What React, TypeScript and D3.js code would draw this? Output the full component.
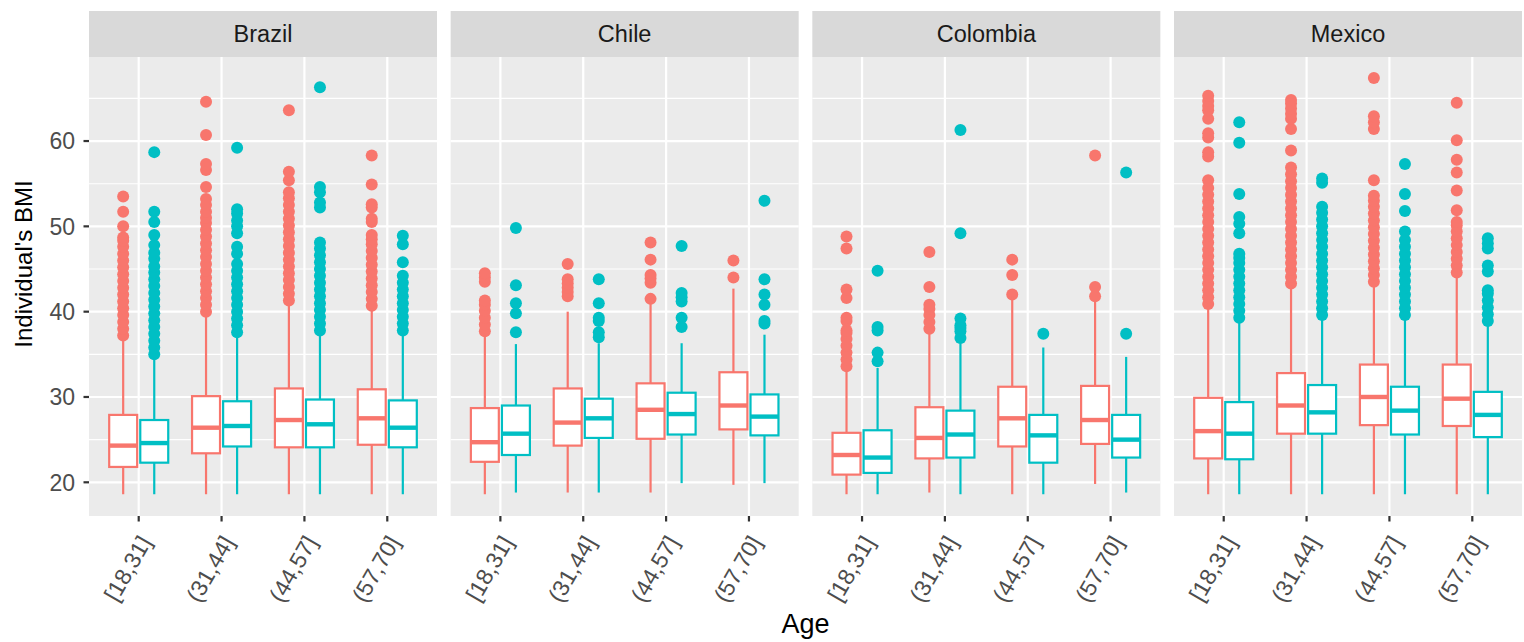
import React from "react";
import * as d3 from "d3";

const countries = ["Brazil", "Chile", "Colombia", "Mexico"];
const ageGroups = ["[18,31]", "(31,44]", "(44,57]", "(57,70]"];
const sexGroups = ["Female", "Male"];
const sexColors = ["#F8766D", "#00BFC4"];
const yTicks = [20, 30, 40, 50, 60];
const yMinorTicks = [25, 35, 45, 55, 65];

// [lower whisker, Q1, median, Q3, upper whisker]; order: age group x sex (Female, Male)
const brazilBoxes = [
  [18.6, 21.8, 24.3, 27.9, 36.9], [18.6, 22.3, 24.6, 27.3, 34.6],
  [18.6, 23.4, 26.4, 30.1, 39.8], [18.6, 24.2, 26.6, 29.5, 37.3],
  [18.6, 24.1, 27.3, 31.0, 41.0], [18.6, 24.1, 26.8, 29.7, 37.6],
  [18.6, 24.4, 27.5, 30.9, 40.4], [18.6, 24.1, 26.4, 29.6, 37.5],
];
const brazilOutliers = [
  [37.2, 38.0, 38.8, 39.6, 40.4, 41.2, 42.0, 42.8, 43.6, 44.4, 45.2, 46.0, 46.8, 47.6, 48.3, 48.7, 50.0, 51.7, 53.5],
  [35.0, 35.8, 36.6, 37.4, 38.2, 39.0, 39.8, 40.6, 41.4, 42.2, 43.0, 43.8, 44.6, 45.3, 46.2, 46.9, 47.8, 49.0, 50.5, 51.7, 58.7],
  [40.0, 40.8, 41.6, 42.4, 43.2, 44.0, 44.8, 45.6, 46.4, 47.2, 48.0, 48.8, 49.6, 50.4, 51.0, 51.7, 52.5, 53.2, 54.6, 56.6, 57.3, 60.7, 64.6],
  [37.6, 38.4, 39.2, 40.0, 40.8, 41.6, 42.4, 43.2, 44.0, 44.8, 45.6, 46.8, 47.6, 49.2, 50.0, 50.7, 51.5, 52.0, 59.2],
  [41.3, 42.1, 42.9, 43.7, 44.5, 45.3, 46.1, 46.9, 47.7, 48.5, 49.3, 50.1, 50.9, 51.7, 52.5, 53.3, 54.0, 55.4, 56.4, 63.6],
  [37.8, 38.6, 39.4, 40.2, 41.0, 41.8, 42.6, 43.4, 44.2, 45.0, 45.8, 46.6, 47.4, 48.1, 52.2, 52.8, 54.0, 54.6, 66.3],
  [40.7, 41.5, 42.3, 43.1, 43.9, 44.7, 45.5, 46.3, 47.1, 47.9, 48.5, 49.0, 50.5, 50.9, 52.2, 52.6, 54.9, 58.3],
  [37.8, 38.6, 39.4, 40.2, 41.0, 41.8, 42.6, 43.4, 44.2, 45.8, 47.9, 48.9],
];

const chileBoxes = [
  [18.6, 22.4, 24.7, 28.7, 37.4], [18.8, 23.2, 25.7, 29.0, 36.2],
  [18.8, 24.3, 27.0, 31.0, 40.0], [18.8, 25.2, 27.5, 29.8, 36.3],
  [18.8, 25.1, 28.5, 31.6, 41.0], [19.9, 25.6, 28.0, 30.5, 36.3],
  [19.7, 26.2, 29.0, 32.9, 42.7], [19.9, 25.5, 27.7, 30.3, 37.3],
];
const chileOutliers = [
  [37.7, 38.5, 39.3, 40.1, 40.8, 41.3, 43.5, 44.0, 44.5],
  [37.6, 39.8, 41.0, 43.1, 49.8],
  [41.8, 42.3, 42.8, 43.3, 43.8, 45.6],
  [37.0, 37.6, 38.9, 39.3, 41.0, 43.8],
  [41.5, 43.4, 43.9, 44.3, 46.1, 48.1],
  [38.2, 39.3, 41.2, 41.7, 42.2, 47.7],
  [44.0, 46.0],
  [38.6, 38.9, 40.8, 42.0, 43.8, 53.0],
];

const colombiaBoxes = [
  [18.6, 20.9, 23.2, 25.8, 33.2], [18.6, 21.1, 22.9, 26.1, 33.4],
  [18.8, 22.8, 25.2, 28.8, 37.7], [18.6, 22.9, 25.6, 28.4, 36.3],
  [18.6, 24.2, 27.5, 31.2, 41.8], [18.6, 22.3, 25.5, 27.9, 35.8],
  [19.8, 24.5, 27.3, 31.3, 41.2], [18.8, 22.9, 25.0, 27.9, 34.7],
];
const colombiaOutliers = [
  [33.6, 34.4, 35.2, 36.0, 36.8, 37.5, 37.8, 38.9, 39.3, 41.6, 42.6, 47.4, 48.8],
  [34.2, 35.2, 37.8, 38.2, 44.8],
  [38.0, 38.8, 39.6, 40.3, 40.8, 42.9, 47.0],
  [36.9, 37.7, 38.1, 38.4, 39.2, 49.2, 61.3],
  [42.0, 44.3, 46.1],
  [37.4],
  [41.8, 42.9, 58.3],
  [37.4, 56.3],
];

const mexicoBoxes = [
  [18.6, 22.8, 26.0, 29.9, 40.6], [18.6, 22.7, 25.7, 29.4, 39.0],
  [18.6, 25.7, 29.0, 32.8, 43.1], [18.6, 25.7, 28.2, 31.4, 39.4],
  [18.6, 26.7, 30.0, 33.8, 43.3], [18.6, 25.6, 28.4, 31.2, 39.4],
  [18.6, 26.6, 29.8, 33.8, 44.3], [18.6, 25.3, 27.9, 30.6, 38.6],
];
const mexicoOutliers = [
  [40.9, 41.7, 42.5, 43.3, 44.1, 44.9, 45.7, 46.5, 47.3, 48.1, 48.9, 49.7, 50.5, 51.3, 52.1, 52.9, 53.7, 54.5, 55.4, 58.2, 58.7, 60.4, 60.9, 62.6, 63.6, 64.1, 64.7, 65.3],
  [39.3, 40.1, 40.9, 41.7, 42.5, 43.3, 44.1, 44.9, 45.7, 46.3, 46.8, 49.2, 50.3, 51.1, 53.8, 59.8, 62.2],
  [43.3, 44.1, 44.9, 45.7, 46.5, 47.3, 48.1, 48.9, 49.7, 50.5, 51.3, 52.1, 52.9, 53.7, 54.5, 55.3, 56.1, 56.9, 58.9, 61.4, 62.6, 63.2, 63.8, 64.4, 64.8],
  [39.6, 40.4, 41.2, 42.0, 42.8, 43.6, 44.4, 45.2, 46.0, 46.8, 47.6, 48.4, 49.2, 50.0, 50.8, 51.6, 52.3, 55.1, 55.6],
  [43.5, 44.3, 45.1, 45.9, 46.7, 47.5, 48.3, 49.1, 49.9, 50.7, 51.5, 52.3, 53.0, 53.6, 55.4, 61.4, 62.2, 62.9, 67.4],
  [39.6, 40.4, 41.2, 42.0, 42.8, 43.6, 44.4, 45.2, 46.0, 46.8, 47.6, 48.4, 49.4, 51.8, 53.8, 57.3],
  [44.6, 45.4, 46.2, 47.0, 47.8, 48.6, 49.4, 50.1, 50.5, 51.9, 54.2, 56.3, 57.8, 60.1, 64.5],
  [38.9, 39.7, 40.5, 41.3, 42.1, 42.5, 44.7, 45.4, 47.4, 48.0, 48.6],
];

const boxesByCountry = [brazilBoxes, chileBoxes, colombiaBoxes, mexicoBoxes];
const outliersByCountry = [brazilOutliers, chileOutliers, colombiaOutliers, mexicoOutliers];

const W = 1524;
const H = 642;
const FONT = "'Liberation Sans', Arial, Helvetica, sans-serif";

export default function App() {
  const panelLeft = 89;
  const panelRight = 1522;
  const panelTop = 57;
  const panelBottom = 516;
  const stripTop = 11;

  const fx = d3
    .scaleBand<string>()
    .domain(countries)
    .range([panelLeft, panelRight])
    .paddingInner(13.67 / 361.67)
    .paddingOuter(0);
  const pw = fx.bandwidth();
  const step = pw / 4.2;
  const x = d3
    .scalePoint<string>()
    .domain(ageGroups)
    .range([step * 0.6, step * 3.6]);
  const y = d3.scaleLinear().domain([16.05, 69.85]).range([panelBottom, panelTop]);

  const dodge = step * 0.1875;
  const boxW = step * 0.3375;
  const lw = 2.2;

  return (
    <svg
      width={W}
      height={H}
      style={{ position: "absolute", left: 0, top: 0, background: "#fff" }}
      fontFamily={FONT}
    >
      <rect x={0} y={0} width={W} height={H} fill="#fff" />
      {countries.map((c, ci) => {
        const px = fx(c)!;
        const boxes = boxesByCountry[ci];
        const outs = outliersByCountry[ci];
        return (
          <g key={c} transform={`translate(${px},0)`}>
            <rect x={0} y={stripTop} width={pw} height={panelTop - stripTop} fill="#D9D9D9" />
            <text
              x={pw / 2}
              y={(stripTop + panelTop) / 2}
              dy="0.36em"
              textAnchor="middle"
              fontSize={23.5}
              fill="#1A1A1A"
            >
              {c}
            </text>
            <rect x={0} y={panelTop} width={pw} height={panelBottom - panelTop} fill="#EBEBEB" />
            {yMinorTicks.map((t) => (
              <line key={"mn" + t} x1={0} x2={pw} y1={y(t)} y2={y(t)} stroke="#fff" strokeWidth={1.1} />
            ))}
            {yTicks.map((t) => (
              <line key={"mj" + t} x1={0} x2={pw} y1={y(t)} y2={y(t)} stroke="#fff" strokeWidth={2.2} />
            ))}
            {ageGroups.map((a) => (
              <line key={"v" + a} x1={x(a)} x2={x(a)} y1={panelTop} y2={panelBottom} stroke="#fff" strokeWidth={2.2} />
            ))}
            {ageGroups.map((a, ai) =>
              sexGroups.map((s, si) => {
                const idx = ai * 2 + si;
                const [lo, q1, med, q3, hi] = boxes[idx];
                const cx = x(a)! + (si === 0 ? -dodge : dodge);
                const col = sexColors[si];
                return (
                  <g key={a + s}>
                    {outs[idx].map((v, k) => (
                      <circle key={k} cx={cx} cy={y(v)} r={6} fill={col} />
                    ))}
                    <line x1={cx} x2={cx} y1={y(q3)} y2={y(hi)} stroke={col} strokeWidth={lw} />
                    <line x1={cx} x2={cx} y1={y(q1)} y2={y(lo)} stroke={col} strokeWidth={lw} />
                    <rect
                      x={cx - boxW / 2}
                      y={y(q3)}
                      width={boxW}
                      height={y(q1) - y(q3)}
                      fill="#fff"
                      stroke={col}
                      strokeWidth={lw}
                    />
                    <line x1={cx - boxW / 2} x2={cx + boxW / 2} y1={y(med)} y2={y(med)} stroke={col} strokeWidth={lw * 2} />
                  </g>
                );
              })
            )}
            {ageGroups.map((a) => (
              <g key={"t" + a}>
                <line x1={x(a)} x2={x(a)} y1={panelBottom} y2={panelBottom + 5.5} stroke="#333" strokeWidth={2.2} />
                <text
                  transform={`translate(${x(a)! + 13.5},542) rotate(-60)`}
                  textAnchor="end"
                  fontSize={23}
                  fill="#4D4D4D"
                >
                  {a}
                </text>
              </g>
            ))}
          </g>
        );
      })}
      {yTicks.map((t) => (
        <g key={"yt" + t}>
          <line x1={panelLeft - 5.5} x2={panelLeft} y1={y(t)} y2={y(t)} stroke="#333" strokeWidth={2.2} />
          <text x={panelLeft - 14} y={y(t)} dy="0.36em" textAnchor="end" fontSize={23} fill="#4D4D4D">
            {t}
          </text>
        </g>
      ))}
      <text
        transform={`translate(32,264) rotate(-90)`}
        textAnchor="middle"
        fontSize={24}
        fill="#000"
      >
        Individual's BMI
      </text>
      <text x={(panelLeft + panelRight) / 2} y={632.5} textAnchor="middle" fontSize={27} fill="#000">
        Age
      </text>
    </svg>
  );
}
